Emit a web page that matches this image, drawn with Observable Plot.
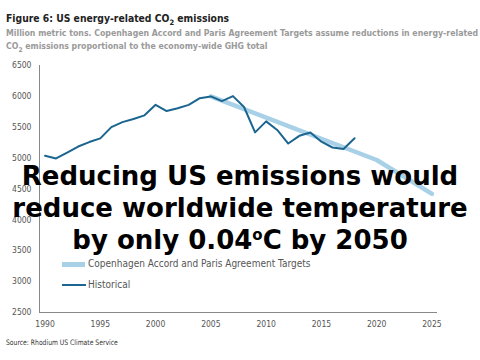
<!DOCTYPE html>
<html>
<head>
<meta charset="utf-8">
<script src="https://cdn.jsdelivr.net/npm/d3@7"></script>
<script src="https://cdn.jsdelivr.net/npm/@observablehq/plot@0.6"></script>
<style>
  html, body { margin: 0; padding: 0; background: #fff; }
  #wrap { position: relative; width: 480px; height: 360px; overflow: hidden; font-family: "DejaVu Sans Condensed", "Liberation Sans", Arial, sans-serif; }
  #title { position: absolute; left: 6px; top: 12px; font-size: 10.3px; font-weight: bold; color: #222; white-space: nowrap; }
  #sub { position: absolute; left: 6px; top: 27px; font-size: 8.7px; font-weight: bold; color: #9a9a9a; line-height: 13px; white-space: nowrap; }
  #chart { position: absolute; left: 0; top: 55px; }
  #source { position: absolute; left: 6px; top: 338px; font-size: 7.5px; color: #333; white-space: nowrap; transform: scaleX(0.9); transform-origin: left top; }
  .leg { position: absolute; font-size: 10px; color: #555; white-space: nowrap; }
  #overlay { position: absolute; left: 0; top: 160px; width: 480px; text-align: center; font-family: "DejaVu Sans", "Liberation Sans", Arial, sans-serif; font-weight: bold; font-size: 26px; line-height: 32px; color: #000; }
  #overlay sup { font-size: 15px; vertical-align: 9px; line-height: 0; }
</style>
</head>
<body>
<div id="wrap">
  <div id="title">Figure 6: US energy-related CO<sub style="font-size:7.5px">2</sub> emissions</div>
  <div id="sub">Million metric tons. Copenhagen Accord and Paris Agreement Targets assume reductions in energy-related<br>CO<sub style="font-size:6.5px">2</sub> emissions proportional to the economy-wide GHG total</div>
  <div id="chart"></div>
  <div class="leg" style="left:62px; top:262px; width:23px; height:5px; background:#a8d1e8;"></div>
  <div class="leg" style="left:88px; top:258px;">Copenhagen Accord and Paris Agreement Targets</div>
  <div class="leg" style="left:62px; top:284px; width:24px; height:2px; background:#1b6590;"></div>
  <div class="leg" style="left:88px; top:279px;">Historical</div>
  <div id="overlay">Reducing US emissions would<br>reduce worldwide temperature<br>by only 0.04<sup>o</sup>C by 2050</div>
  <div id="source">Source: Rhodium US Climate Service</div>
</div>
<script>
const histYears = [1990,1991,1992,1993,1994,1995,1996,1997,1998,1999,2000,2001,2002,2003,2004,2005,2006,2007,2008,2009,2010,2011,2012,2013,2014,2015,2016,2017,2018];
const histValues = [5039,4995,5088,5188,5260,5320,5502,5583,5633,5693,5863,5762,5809,5863,5971,5999,5924,6004,5828,5417,5595,5456,5236,5361,5414,5266,5172,5148,5321];
const targetYears = [2005,2020,2025];
const targetValues = [5999,4970,4420];
const yTicks = [2500,3000,3500,4000,4500,5000,5500,6000,6500];
const xTicks = [1990,1995,2000,2005,2010,2015,2020,2025];

const hist = histYears.map((y, i) => ({year: y, value: histValues[i]}));
const target = targetYears.map((y, i) => ({year: y, value: targetValues[i]}));

const chart = Plot.plot({
  width: 480,
  height: 280,
  marginLeft: 39,
  marginRight: 43,
  marginTop: 10,
  marginBottom: 23,
  style: {fontFamily: '"DejaVu Sans Condensed", "Liberation Sans", Arial, sans-serif', fontSize: "8.5px", color: "#555", background: "#fff"},
  x: {domain: [1989.5, 2025.5], ticks: xTicks, tickFormat: d => String(d), tickSize: 0, tickPadding: 8, label: null},
  y: {domain: [2500, 6500], ticks: yTicks, tickFormat: d => String(d), tickSize: 0, tickPadding: 8, label: null},
  marks: [
    Plot.line(target, {x: "year", y: "value", stroke: "#a8d1e8", strokeWidth: 4.5}),
    Plot.line(hist, {x: "year", y: "value", stroke: "#1b6590", strokeWidth: 2}),
    Plot.ruleX([1989.5], {stroke: "#888", strokeWidth: 1}),
    Plot.ruleY([2500], {stroke: "#888", strokeWidth: 1})
  ]
});
document.getElementById("chart").appendChild(chart);
</script>
</body>
</html>
